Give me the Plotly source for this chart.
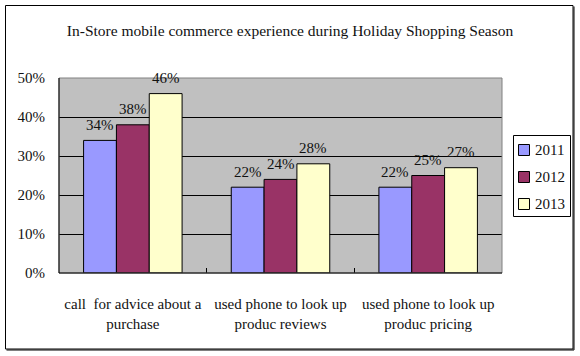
import plotly.graph_objects as go

categories = ["call\u00a0 for advice about a<br>purchase",
              "used phone to look up<br>produc reviews",
              "used phone to look up<br>produc pricing"]
years = ["2011", "2012", "2013"]
values_2011 = [0.34, 0.22, 0.22]
values_2012 = [0.38, 0.24, 0.25]
values_2013 = [0.46, 0.28, 0.27]
colors = ["#9999FF", "#993366", "#FFFFCC"]
y_ticks = [0, 0.1, 0.2, 0.3, 0.4, 0.5]
title_text = "In-Store mobile commerce experience during Holiday Shopping Season"

W, H = 580, 356
L, R, T, B = 59, 502, 78, 273
FONT = "Liberation Serif"
TXT = "#111111"

series = [values_2011, values_2012, values_2013]

fig = go.Figure()
for name, vals, col in zip(years, series, colors):
    fig.add_trace(go.Bar(
        x=categories, y=vals, name=name, showlegend=False,
        marker=dict(color=col, line=dict(color="black", width=1)),
    ))

# data labels
cat_w = (R - L) / len(categories)
bargap = 0.333
bar_w = cat_w * (1 - bargap) / len(years)
annotations = []
for i, vals in enumerate(series):
    for c, v in zip(categories, vals):
        annotations.append(dict(
            x=c, y=v, xref="x", yref="y", text=f"{round(v*100)}%",
            showarrow=False, xshift=(i - 1) * bar_w, yshift=15.5,
            yanchor="middle", xanchor="center",
            font=dict(family=FONT, size=15, color=TXT),
        ))

pw, ph = R - L, B - T
def px(x):
    return (x - L) / pw
def py(y):
    return (B - y) / ph

shapes = [
    # outer chart border
    dict(type="rect", xref="paper", yref="paper",
         x0=px(5.5), x1=px(573), y0=py(349), y1=py(5.5),
         line=dict(color="black", width=1), layer="below"),
    dict(type="line", xref="paper", yref="paper",
         x0=px(574), x1=px(574), y0=py(350), y1=py(6.5),
         line=dict(color="black", width=1)),
    dict(type="line", xref="paper", yref="paper",
         x0=px(6.5), x1=px(574), y0=py(350), y1=py(350),
         line=dict(color="black", width=1)),
    # plot-area border (gray top/right)
    dict(type="rect", xref="paper", yref="paper", x0=0, x1=1, y0=0, y1=1,
         line=dict(color="#808080", width=1), layer="above"),
    dict(type="line", xref="paper", yref="paper", x0=0, x1=0, y0=0, y1=1,
         line=dict(color="black", width=1), layer="above"),
    dict(type="line", xref="paper", yref="paper", x0=0, x1=1, y0=0, y1=0,
         line=dict(color="black", width=1), layer="above"),
    # legend box
    dict(type="rect", xref="paper", yref="paper",
         x0=px(513.5), x1=px(570.5), y0=py(216.5), y1=py(135.5),
         fillcolor="white", line=dict(color="black", width=1), layer="above"),
]

# legend entries (swatch + label)
leg_y0, leg_dy = 150, 27
for k, (name, col) in enumerate(zip(years, colors)):
    cy = leg_y0 + k * leg_dy
    shapes.append(dict(type="rect", xref="paper", yref="paper",
                       x0=px(518.5), x1=px(529.5), y0=py(cy + 5.5), y1=py(cy - 5.5),
                       fillcolor=col, line=dict(color="black", width=1),
                       layer="above"))
    annotations.append(dict(x=px(533), y=py(cy), xref="paper", yref="paper",
                            text=name, showarrow=False, xanchor="left",
                            yanchor="middle",
                            font=dict(family=FONT, size=15, color=TXT)))

fig.update_layout(
    width=W, height=H,
    margin=dict(l=L, r=W - R, t=T, b=H - B, autoexpand=False),
    paper_bgcolor="white",
    plot_bgcolor="#C0C0C0",
    barmode="group", bargap=bargap, bargroupgap=0,
    showlegend=False,
    font=dict(family=FONT, size=15, color=TXT),
    title=dict(text=title_text, x=0.5, xref="container", xanchor="center",
               y=1 - 31 / H, yref="container", yanchor="middle",
               font=dict(family=FONT, size=15.5, color=TXT)),
    xaxis=dict(type="category", tickson="boundaries", ticks="inside",
               ticklen=5, tickcolor="black", tickwidth=1, tickangle=0,
               automargin=False,
               showgrid=False, showline=False, zeroline=False,
               ticklabelstandoff=20,
               tickfont=dict(family=FONT, size=15, color=TXT)),
    yaxis=dict(range=[0, 0.5], tickvals=y_ticks, tickformat=".0%",
               automargin=False,
               ticks="", showgrid=True, gridcolor="black", gridwidth=1,
               showline=False, zeroline=False, ticklabelstandoff=13,
               tickfont=dict(family=FONT, size=15, color=TXT)),
    shapes=shapes,
    annotations=annotations,
)

fig.write_html("out.html", config={"displayModeBar": False},
               post_script="document.body.style.margin='0';document.body.style.padding='0';")
